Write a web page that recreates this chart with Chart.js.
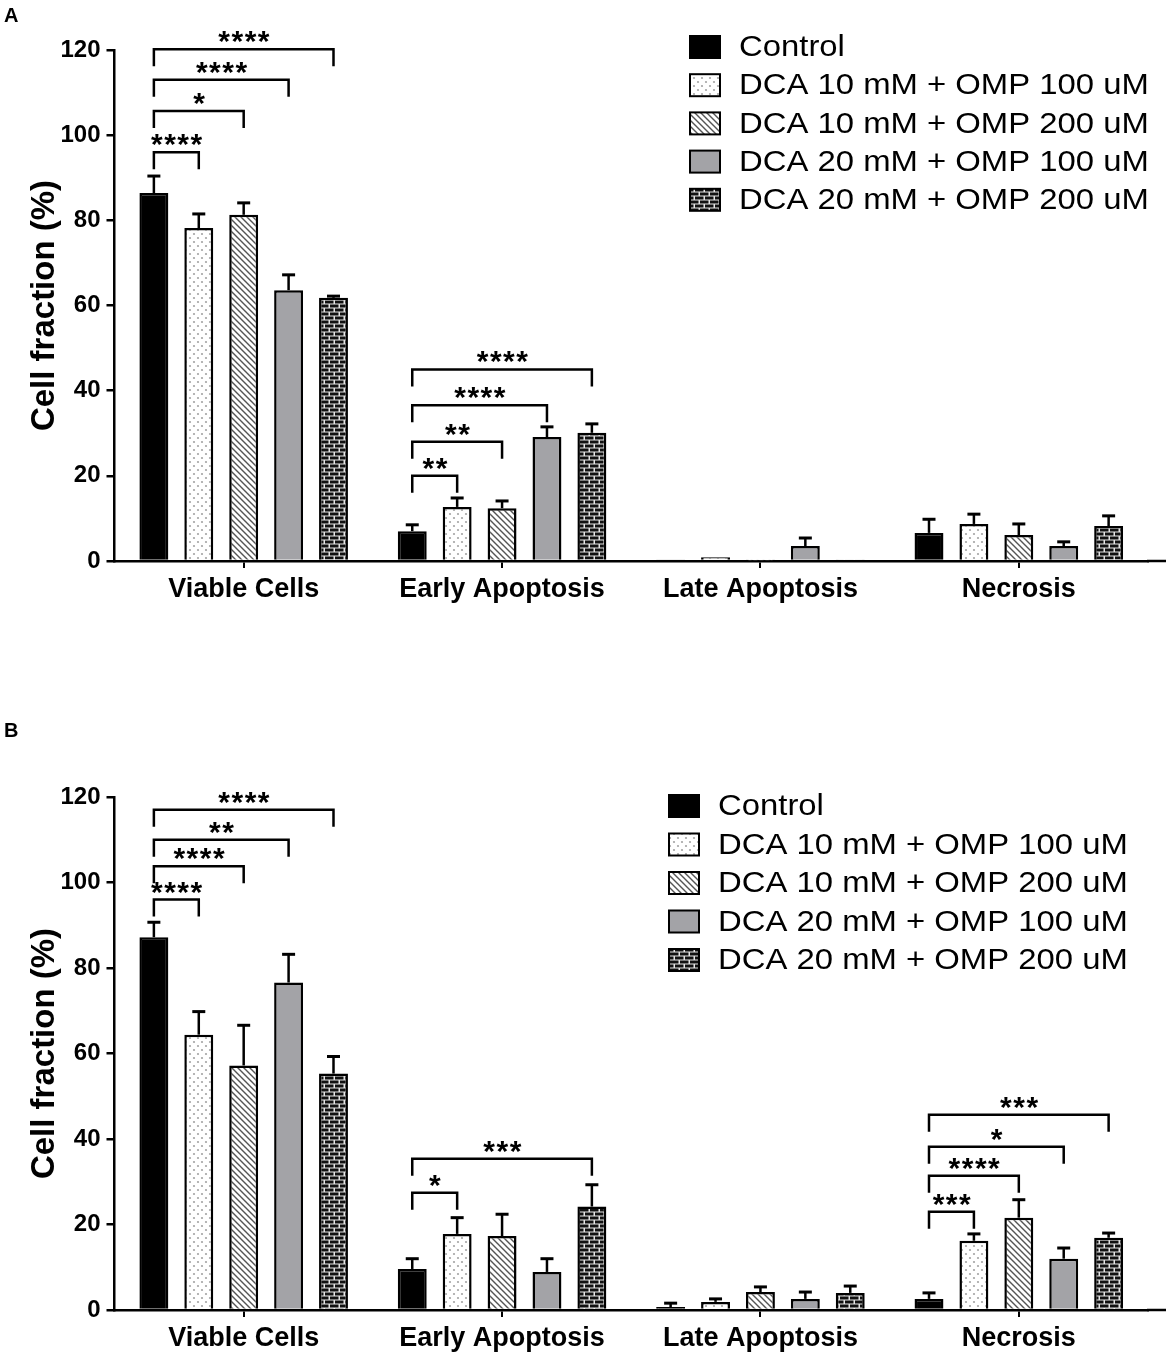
<!DOCTYPE html>
<html>
<head>
<meta charset="utf-8">
<title>Cell fraction</title>
<script src="https://cdn.jsdelivr.net/npm/chart.js@4.4.1/dist/chart.umd.min.js"></script>
<style>
  body { margin: 0; background: #fff; }
  .panel { position: absolute; left: 0; width: 1170px; }
</style>
</head>
<body>
<div class="panel" style="top:0;height:680px"><canvas id="chart-a"></canvas></div>
<div class="panel" style="top:680px;height:676px"><canvas id="chart-b"></canvas></div>
<script>
const categories = ['Viable Cells', 'Early Apoptosis', 'Late Apoptosis', 'Necrosis'];
const groups = [
    'Control',
    'DCA 10 mM + OMP 100 uM',
    'DCA 10 mM + OMP 200 uM',
    'DCA 20 mM + OMP 100 uM',
    'DCA 20 mM + OMP 200 uM'
];
const yTicks = [0, 20, 40, 60, 80, 100, 120];

// Panel A - means, one array per group
const controlA      = [86.4, 7.0, 0.2, 6.6];
const dca10omp100A  = [78.2, 12.7, 0.9, 8.7];
const dca10omp200A  = [81.3, 12.4, 0.1, 6.1];
const dca20omp100A  = [63.6, 29.1, 3.5, 3.5];
const dca20omp200A  = [61.8, 30.1, 0.2, 8.2];
// Panel A - error (upper SD)
const controlErrA     = [4.0, 1.5, 0, 3.2];
const dca10omp100ErrA = [3.3, 2.1, 0, 2.3];
const dca10omp200ErrA = [2.8, 1.7, 0, 2.6];
const dca20omp100ErrA = [3.6, 2.4, 1.9, 1.0];
const dca20omp200ErrA = [0.4, 2.1, 0, 2.4];
// Panel A - significance: [category, compared group, bracket level, stars]
const bracketsA = [
    [0, 1, 96, '****'], [0, 2, 105.7, '*'], [0, 3, 113, '****'], [0, 4, 120.2, '****'],
    [1, 1, 20, '**'], [1, 2, 28, '**'], [1, 3, 36.6, '****'], [1, 4, 45, '****']
];

// Panel B - means
const controlB      = [87.2, 9.6, 0.7, 2.6];
const dca10omp100B  = [64.4, 17.8, 1.9, 16.2];
const dca10omp200B  = [57.2, 17.3, 4.2, 21.6];
const dca20omp100B  = [76.6, 8.9, 2.6, 12.0];
const dca20omp200B  = [55.3, 24.2, 4.0, 16.9];
// Panel B - error
const controlErrB     = [3.5, 2.4, 0.9, 1.4];
const dca10omp100ErrB = [5.4, 3.8, 0.7, 1.6];
const dca10omp200ErrB = [9.4, 5.1, 1.2, 4.2];
const dca20omp100ErrB = [6.6, 3.1, 1.6, 2.5];
const dca20omp200ErrB = [4.0, 5.1, 1.6, 1.1];
// Panel B - significance
const bracketsB = [
    [0, 1, 96, '****'], [0, 2, 103.8, '****'], [0, 3, 110, '**'], [0, 4, 117, '****'],
    [1, 1, 27.4, '*'], [1, 4, 35.4, '***'],
    [3, 1, 23, '***'], [3, 2, 31.4, '****'], [3, 3, 38.2, '*'], [3, 4, 45.7, '***']
];

const FONT = "'Liberation Sans', Arial, Helvetica, sans-serif";

// Fill patterns
function tile(w, h, paint) {
    const c = document.createElement('canvas');
    c.width = w;
    c.height = h;
    const g = c.getContext('2d');
    paint(g, w, h);
    return g.createPattern(c, 'repeat');
}

const dotFill = tile(8, 8, (g, w, h) => {
    g.fillStyle = '#fff';
    g.fillRect(0, 0, w, h);
    g.fillStyle = '#a4a4a4';
    [[2, 2], [6, 6]].forEach(([x, y]) => {
        g.beginPath();
        g.arc(x, y, 1.1, 0, Math.PI * 2);
        g.fill();
    });
});

const hatchFill = tile(6, 6, (g, w, h) => {
    g.fillStyle = '#fff';
    g.fillRect(0, 0, w, h);
    g.strokeStyle = '#555';
    g.lineWidth = 1.4;
    g.beginPath();
    g.moveTo(-1, -1); g.lineTo(w + 1, h + 1);
    g.moveTo(-1, h - 1); g.lineTo(1, h + 1);
    g.moveTo(w - 1, -1); g.lineTo(w + 1, 1);
    g.stroke();
});

const brickFill = tile(10, 8, (g, w, h) => {
    g.fillStyle = '#e6e6e6';
    g.fillRect(0, 0, w, h);
    g.fillStyle = '#111';
    g.fillRect(0, 0.5, 8.5, 3);
    g.fillRect(5, 4.5, 8.5, 3);
    g.fillRect(-5, 4.5, 8.5, 3);
});

const fills = ['#000', dotFill, hatchFill, '#a3a3a7', brickFill];

// Error bars, brackets, legend and panel letter
function decorPlugin(panel) {
    return {
        id: 'decor' + panel.letter,
        afterDraw(chart) {
            const { ctx, chartArea, scales: { y } } = chart;
            ctx.save();
            ctx.strokeStyle = '#000';
            ctx.fillStyle = '#000';
            ctx.lineCap = 'butt';

            // x axis runs on a little past the last group
            ctx.lineWidth = 2.5;
            ctx.beginPath();
            ctx.moveTo(chartArea.right - 1, chartArea.bottom);
            ctx.lineTo(chartArea.right + 18, chartArea.bottom);
            ctx.stroke();

            // upper error bars
            chart.data.datasets.forEach((ds, i) => {
                const meta = chart.getDatasetMeta(i);
                panel.errors[i].forEach((err, j) => {
                    if (!err) return;
                    const bar = meta.data[j];
                    const top = y.getPixelForValue(ds.data[j] + err);
                    ctx.lineWidth = 2.5;
                    ctx.beginPath();
                    ctx.moveTo(bar.x, bar.y);
                    ctx.lineTo(bar.x, top);
                    ctx.stroke();
                    ctx.lineWidth = 3;
                    ctx.beginPath();
                    ctx.moveTo(bar.x - 6.5, top);
                    ctx.lineTo(bar.x + 6.5, top);
                    ctx.stroke();
                });
            });

            // significance brackets
            ctx.lineWidth = 2.5;
            ctx.font = `bold 30px ${FONT}`;
            ctx.textAlign = 'center';
            ctx.textBaseline = 'alphabetic';
            if ('letterSpacing' in ctx) ctx.letterSpacing = '1.5px';
            panel.brackets.forEach(([cat, target, level, stars]) => {
                const x0 = chart.getDatasetMeta(0).data[cat].x;
                const x1 = chart.getDatasetMeta(target).data[cat].x;
                const yy = y.getPixelForValue(level);
                ctx.beginPath();
                ctx.moveTo(x0, yy + 17);
                ctx.lineTo(x0, yy);
                ctx.lineTo(x1, yy);
                ctx.lineTo(x1, yy + 17);
                ctx.stroke();
                ctx.fillText(stars, (x0 + x1) / 2 + 1, yy + 2);
            });
            if ('letterSpacing' in ctx) ctx.letterSpacing = '0px';

            // legend
            ctx.textAlign = 'left';
            ctx.textBaseline = 'middle';
            ctx.font = `30px ${FONT}`;
            chart.data.datasets.forEach((ds, i) => {
                const rowY = panel.legendY + i * panel.legendStep;
                ctx.fillStyle = ds.backgroundColor;
                ctx.fillRect(panel.legendX, rowY - 11, 30, 22);
                ctx.lineWidth = 2;
                ctx.strokeRect(panel.legendX, rowY - 11, 30, 22);
                ctx.fillStyle = '#000';
                ctx.save();
                ctx.translate(panel.legendX + 49, rowY + 1);
                ctx.scale(1.095, 1);
                ctx.fillText(ds.label, 0, 0);
                ctx.restore();
            });

            // panel letter
            ctx.font = `bold 20px ${FONT}`;
            ctx.textBaseline = 'alphabetic';
            ctx.fillText(panel.letter, 4, panel.letterY);
            ctx.restore();
        }
    };
}

function buildChart(canvasId, panel) {
    const datasets = panel.series.map((data, i) => ({
        label: groups[i],
        data: data,
        backgroundColor: fills[i],
        borderColor: '#000',
        borderWidth: 2.5,
        categoryPercentage: 0.869,
        barPercentage: 0.644
    }));

    return new Chart(document.getElementById(canvasId), {
        type: 'bar',
        data: { labels: categories, datasets: datasets },
        options: {
            responsive: true,
            maintainAspectRatio: false,
            animation: false,
            events: [],
            layout: { padding: { top: panel.top, right: 22, left: 0, bottom: 0 } },
            plugins: { legend: { display: false }, tooltip: { enabled: false } },
            scales: {
                x: {
                    grid: {
                        offset: false,
                        drawOnChartArea: false,
                        drawTicks: true,
                        tickLength: 7,
                        color: '#000',
                        lineWidth: 2
                    },
                    border: { display: true, color: '#000', width: 2.5 },
                    ticks: {
                        color: '#000',
                        font: { family: FONT, size: 27, weight: 'bold' },
                        padding: 5,
                        maxRotation: 0,
                        autoSkip: false
                    },
                    afterFit: s => { s.height = panel.xHeight; }
                },
                y: {
                    min: 0,
                    max: 120,
                    afterBuildTicks: s => { s.ticks = yTicks.map(v => ({ value: v })); },
                    grid: {
                        drawOnChartArea: false,
                        drawTicks: true,
                        tickLength: 8,
                        color: '#000',
                        lineWidth: 2.5
                    },
                    border: { display: true, color: '#000', width: 2.5 },
                    ticks: {
                        color: '#000',
                        font: { family: FONT, size: 24, weight: 'bold' },
                        padding: 6
                    },
                    title: {
                        display: true,
                        text: 'Cell fraction (%)',
                        color: '#000',
                        font: { family: FONT, size: 33, weight: 'bold' },
                        padding: { top: 25, bottom: 0 }
                    },
                    afterFit: s => { s.width = 114.5; }
                }
            }
        },
        plugins: [decorPlugin(panel)]
    });
}

buildChart('chart-a', {
    letter: 'A',
    letterY: 22,
    top: 50,
    xHeight: 119,
    legendX: 690,
    legendY: 47,
    legendStep: 38.2,
    series: [controlA, dca10omp100A, dca10omp200A, dca20omp100A, dca20omp200A],
    errors: [controlErrA, dca10omp100ErrA, dca10omp200ErrA, dca20omp100ErrA, dca20omp200ErrA],
    brackets: bracketsA
});

buildChart('chart-b', {
    letter: 'B',
    letterY: 57,
    top: 117,
    xHeight: 46,
    legendX: 669,
    legendY: 126,
    legendStep: 38.5,
    series: [controlB, dca10omp100B, dca10omp200B, dca20omp100B, dca20omp200B],
    errors: [controlErrB, dca10omp100ErrB, dca10omp200ErrB, dca20omp100ErrB, dca20omp200ErrB],
    brackets: bracketsB
});
</script>
</body>
</html>
